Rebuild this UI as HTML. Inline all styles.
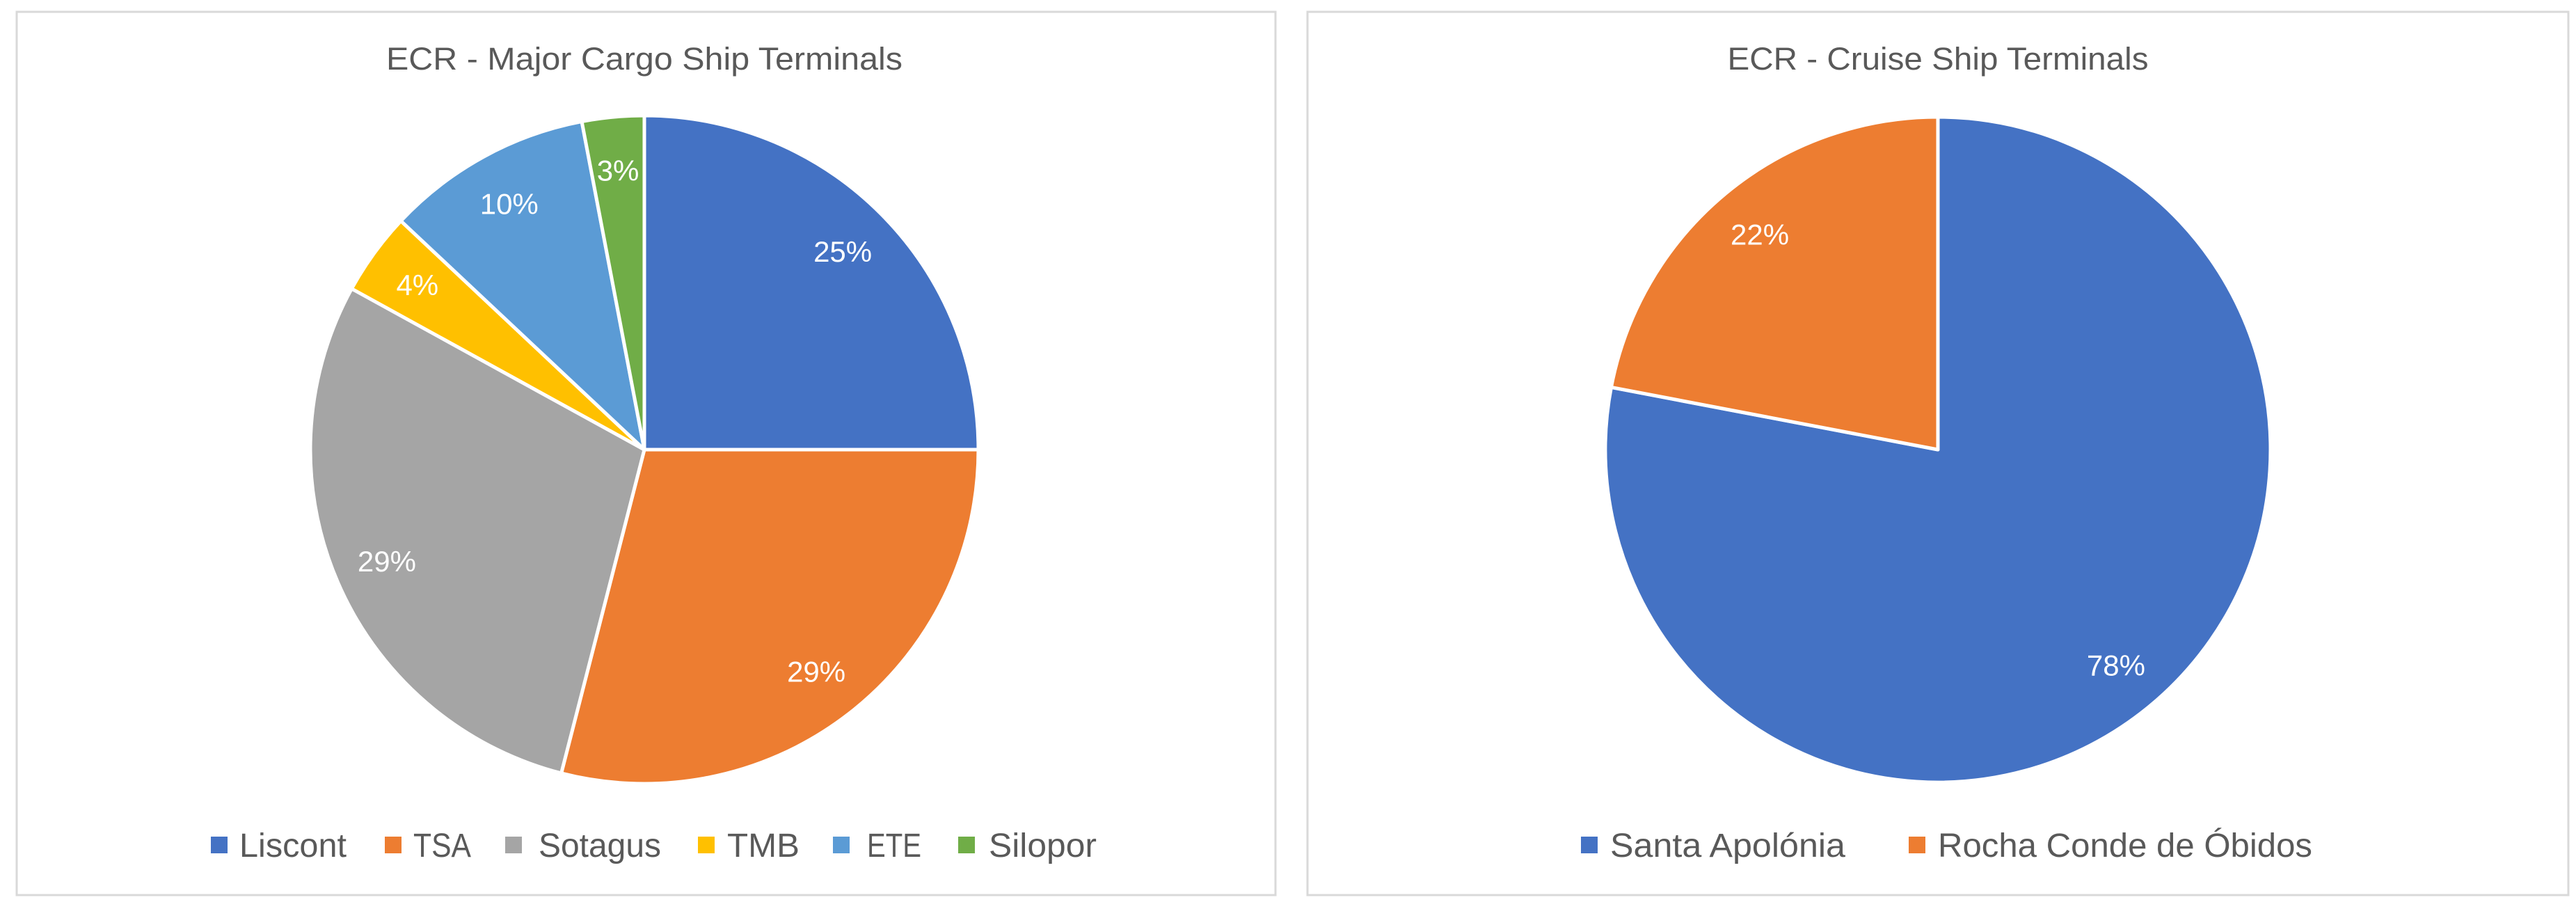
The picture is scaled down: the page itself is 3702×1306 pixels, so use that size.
<!DOCTYPE html>
<html><head><meta charset="utf-8"><style>
html,body{margin:0;padding:0;background:#fff;}
svg{display:block;font-family:"Liberation Sans",sans-serif;}
</style></head><body>
<svg id="chart" width="3702" height="1306" viewBox="0 0 3702 1306">
<rect x="24" y="17" width="1809" height="1269" fill="#fff" stroke="#d9d9d9" stroke-width="3"/>
<rect x="1879" y="17" width="1812" height="1269" fill="#fff" stroke="#d9d9d9" stroke-width="3"/>
<text x="926" y="100" text-anchor="middle" font-size="45" fill="#595959" textLength="742" lengthAdjust="spacingAndGlyphs">ECR - Major Cargo Ship Terminals</text>
<text x="2785" y="100" text-anchor="middle" font-size="45" fill="#595959" textLength="605" lengthAdjust="spacingAndGlyphs">ECR - Cruise Ship Terminals</text>
<g id="cargo"></g>
<g id="cruise"></g>
</svg>
<script>
const cargoCategories = ["Liscont","TSA","Sotagus","TMB","ETE","Silopor"];
const cargoValues = [25,29,29,4,10,3];
const cargoLabels = ["25%","29%","29%","4%","10%","3%"];
const cruiseCategories = ["Santa Apolónia","Rocha Conde de Óbidos"];
const cruiseValues = [78,22];
const cruiseLabels = ["78%","22%"];
const colors = ["#4472c4","#ed7d31","#a5a5a5","#ffc000","#5b9bd5","#70ad47"];
const NS = "http://www.w3.org/2000/svg";

function mk(tag, attrs, parent){
  const e = document.createElementNS(NS, tag);
  for (const k in attrs) e.setAttribute(k, attrs[k]);
  parent.appendChild(e);
  return e;
}

function drawPie(g, cx, cy, r, cats, vals, labels, prefix){
  const total = vals.reduce((a,b)=>a+b,0);
  let a0 = 0;
  vals.forEach((v,i)=>{
    const a1 = a0 + v/total*2*Math.PI;
    const x0 = cx + r*Math.sin(a0), y0 = cy - r*Math.cos(a0);
    const x1 = cx + r*Math.sin(a1), y1 = cy - r*Math.cos(a1);
    const large = (a1-a0) > Math.PI ? 1 : 0;
    const p = mk("path", {d:`M${cx},${cy} L${x0},${y0} A${r},${r} 0 ${large} 1 ${x1},${y1} Z`, fill:colors[i], stroke:"#fff", "stroke-width":"5", "stroke-linejoin":"round"}, g);
    
    
    const am = (a0+a1)/2;
    const lr = r*0.84;
    const t = mk("text", {x: cx + lr*Math.sin(am), y: cy - lr*Math.cos(am) + 15, "text-anchor":"middle", "font-size":"42", fill:"#fff"}, g);
    t.textContent = labels[i];
    
    
    a0 = a1;
  });
}

function drawLegend(items, cats, prefix){
  const svg = document.getElementById("chart");
  items.forEach((it,i)=>{
    const grp = mk("g", {}, svg);
    
    
    mk("rect", {x: it[0], y: 1202, width: 24, height: 24, fill: colors[i]}, grp);
    const t = mk("text", {x: it[1], y: 1231, "font-size":"48", fill:"#595959", textLength: it[2], lengthAdjust:"spacingAndGlyphs"}, grp);
    t.textContent = cats[i];
  });
}

drawPie(document.getElementById("cargo"), 926, 646, 480, cargoCategories, cargoValues, cargoLabels, "cargo");
drawPie(document.getElementById("cruise"), 2785, 646, 478, cruiseCategories, cruiseValues, cruiseLabels, "cruise");
drawLegend([[303,344,154],[553,594,83],[726,774,176],[1003,1045,104],[1197,1246,78],[1377,1421,155]], cargoCategories, "cargo");
drawLegend([[2272,2314,338],[2743,2785,538]], cruiseCategories, "cruise");
</script>
</body></html>
